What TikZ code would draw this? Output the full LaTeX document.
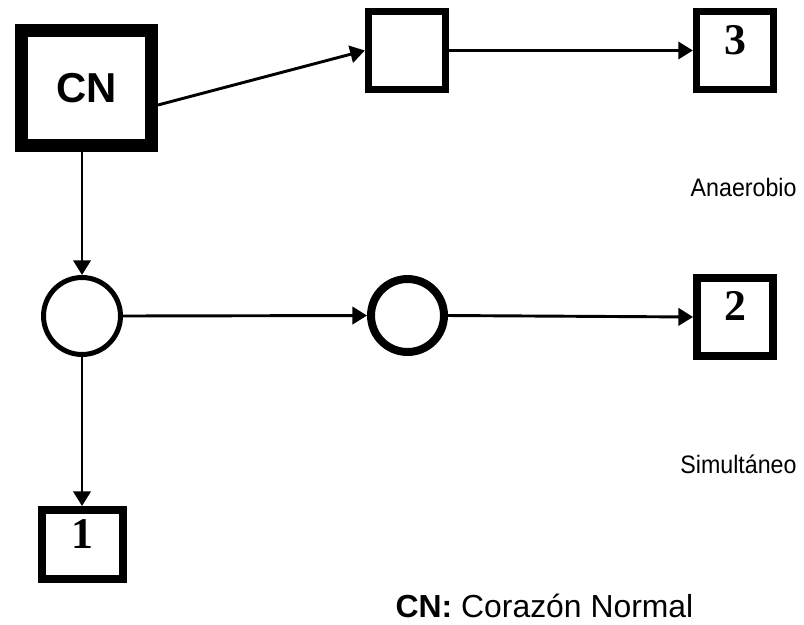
\documentclass[tikz,border=0pt]{standalone}
\usepackage{fontspec}
\setmainfont{Liberation Sans}
\newfontfamily\digitfont{Liberation Serif}
\newfontfamily\tagfont[FakeStretch=0.92]{Liberation Sans}
\usetikzlibrary{arrows.meta}

\begin{document}
\begin{tikzpicture}[
  every node/.style={font=\fontsize{17}{20}\selectfont},
  numbox/.style={draw, line width=5.5pt, minimum width=2.037cm, minimum height=2.064cm,
    inner sep=0pt, font=\digitfont\bfseries\fontsize{33}{36}\selectfont,
    text height=22pt, text depth=16pt},
  state/.style={draw, circle, inner sep=0pt},
  tag/.style={anchor=base east, font=\tagfont\fontsize{19}{22}\selectfont},
  flow/.style={line width=2.2pt, -{Triangle[length=11pt, width=13pt]}}
]
  \useasboundingbox (0,0) rectangle (21.272,16.510);

  % Start box: normal heart
  \node[draw, line width=9.75pt, minimum width=3.44cm, minimum height=3.043cm,
    font=\bfseries\fontsize{31.5}{34}\selectfont]
    at (2.289,14.182) (cn) {CN};

  % Upper branch
  \node[numbox] at (10.768,15.174) (mid) {};
  \node[numbox] at (19.447,15.174) (b3) {3};

  % Middle branch
  \node[state, line width=3.75pt, minimum size=2.037cm] at (2.170,8.149) (c1) {};
  \node[state, line width=6pt, minimum size=1.931cm] at (10.782,8.162) (c2) {};
  \node[numbox, line width=6pt, minimum width=2.01cm] at (19.447,8.123) (b2) {2};

  % Lower branch
  \node[numbox, line width=6pt, minimum width=2.143cm, minimum height=1.826cm]
    at (c1 |- 0,2.103) (b1) {1};

  % Connectors
  \draw[flow] ([yshift=-0.45cm]cn.east) -- (mid.west);
  \draw[flow] (mid.east) -- (b3.west);
  \draw[flow] (c1.north |- cn.south) -- (c1.north);
  \draw[flow] (c1.east) -- (c2.west);
  \draw[flow] (c2.east) -- (b2.west);
  \draw[flow] (c1.south) -- (b1.north);

  % Labels
  \node[tag] at (21.2,11.298) (anae) {Anaerobio};
  \node[tag] at (21.2,3.995) (simu) {Simultáneo};
  \node[anchor=base west, font=\fontsize{24}{28}\selectfont]
    at (10.345,0.185) (legend) {\textbf{CN:} Corazón Normal};
\end{tikzpicture}
\end{document}
